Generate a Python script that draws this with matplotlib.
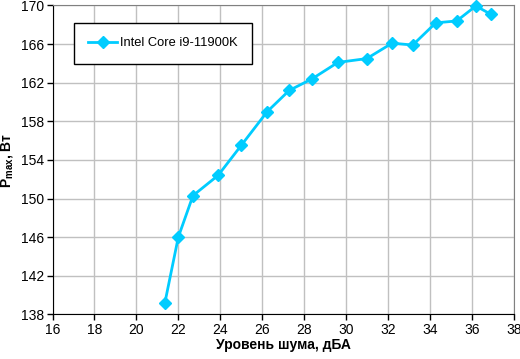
import matplotlib
matplotlib.use("Agg")
import matplotlib.pyplot as plt

plt.rcParams['font.family'] = ['Liberation Sans', 'DejaVu Sans']

noise_dba = [21.36, 22.0, 22.70, 23.90, 25.0, 26.24, 27.29, 28.38, 29.61, 30.99,
             32.20, 33.18, 34.28, 35.28, 36.19, 36.90]
p_max = [139.2, 146.0, 150.3, 152.4, 155.5, 159.0, 161.2, 162.4, 164.1, 164.5,
         166.1, 165.9, 168.2, 168.4, 169.95, 169.1]
series_label = "Intel Core i9-11900K"
x_ticks = list(range(16, 39, 2))
y_ticks = list(range(138, 171, 4))

fig = plt.figure(figsize=(5.2, 3.59), dpi=100)
ax = fig.add_axes([0.101, 0.1245, 0.887, 0.8602])

color = '#00CCFF'
ax.plot(noise_dba, p_max, color=color, lw=2, marker='D', ms=6.5,
        markeredgecolor=color, markerfacecolor=color, label=series_label,
        clip_on=False, zorder=3)

ax.set_xlim(16, 38)
ax.set_ylim(138, 170)
ax.set_xticks(x_ticks)
ax.set_yticks(y_ticks)
ax.grid(True, color='#c0c0c0', lw=1)
ax.set_axisbelow(True)

for s in ['top', 'right']:
    ax.spines[s].set_color('#808080')
for s in ['left', 'bottom']:
    ax.spines[s].set_color('black')
ax.tick_params(direction='out', length=4, width=1, labelsize=10, pad=2,
               colors='black')

ax.set_xlabel("Уровень шума, дБА", fontsize=10, fontweight='bold', labelpad=1)
ax.set_ylabel(r"P$_{\mathregular{max}}$, Вт", fontsize=10, fontweight='bold',
              labelpad=4)

leg = ax.legend(loc='upper left', bbox_to_anchor=(0.047, 0.943), frameon=True,
                fancybox=False, edgecolor='black', framealpha=1, fontsize=9.3,
                handlelength=2.25, borderpad=1.1, handletextpad=0.2,
                borderaxespad=0)
leg.get_frame().set_linewidth(1)

fig.savefig("out.png", dpi=100)
